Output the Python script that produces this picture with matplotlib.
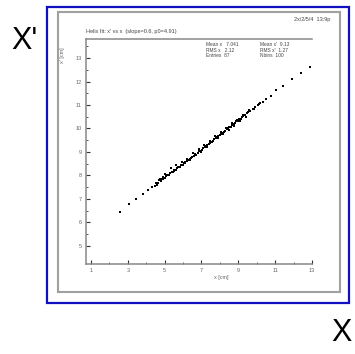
import matplotlib
matplotlib.use("Agg")
import matplotlib.pyplot as plt
from matplotlib.patches import Rectangle

plt.rcParams['font.family'] = ['Liberation Sans', 'DejaVu Sans']

# data (x, x')
x_vals = [2.60, 3.05, 3.45, 3.80, 4.10, 4.30, 4.45, 4.55, 4.62, 4.70, 4.78, 4.85, 4.93,
          5.00, 5.08, 5.15, 5.22, 5.30, 5.38, 5.45, 5.52, 5.60, 5.68, 5.75, 5.82, 5.90,
          5.98, 6.05, 6.12, 6.20, 6.28, 6.35, 6.42, 6.50, 6.58, 6.65, 6.72, 6.80, 6.88,
          6.95, 7.02, 7.10, 7.18, 7.25, 7.32, 7.40, 7.48, 7.55, 7.62, 7.70, 7.78, 7.85,
          7.92, 8.00, 8.08, 8.15, 8.22, 8.30, 8.38, 8.45, 8.52, 8.60, 8.68, 8.75, 8.82,
          8.90, 8.98, 9.05, 9.12, 9.20, 9.28, 9.35, 9.45, 9.55, 9.65, 9.78, 9.90, 10.05,
          10.20, 10.35, 10.50, 10.75, 11.05, 11.40, 11.90, 12.40, 12.90,
          4.58, 4.74, 4.90, 5.04, 5.19, 5.34, 5.49, 5.64, 5.79, 5.94, 6.09, 6.24, 6.39,
          6.54, 6.69, 6.84, 6.99, 7.14, 7.29, 7.44, 7.59, 7.74, 7.89, 8.04, 8.19, 8.34,
          8.49, 8.64, 8.79, 8.94, 9.09, 9.24, 9.40, 9.60, 9.85, 10.12]
y_vals = [6.45, 6.78, 6.98, 7.22, 7.38, 7.52, 7.55, 7.68, 7.70, 7.80, 7.76, 7.85, 7.92,
          7.90, 7.98, 8.03, 8.00, 8.10, 8.14, 8.16, 8.24, 8.22, 8.30, 8.36, 8.38, 8.46,
          8.44, 8.52, 8.58, 8.60, 8.66, 8.64, 8.75, 8.80, 8.82, 8.90, 8.88, 8.97, 9.04,
          9.02, 9.10, 9.16, 9.20, 9.24, 9.30, 9.32, 9.40, 9.44, 9.46, 9.54, 9.58, 9.62,
          9.70, 9.72, 9.78, 9.82, 9.86, 9.90, 9.98, 10.00, 10.06, 10.08, 10.16, 10.20,
          10.24, 10.30, 10.32, 10.40, 10.42, 10.50, 10.54, 10.58, 10.64, 10.70, 10.75,
          10.84, 10.90, 11.00, 11.08, 11.14, 11.24, 11.40, 11.62, 11.80, 12.10, 12.36, 12.62,
          7.58, 7.86, 7.84, 8.08, 8.04, 8.30, 8.20, 8.45, 8.34, 8.58, 8.55, 8.72, 8.70,
          8.96, 8.86, 9.12, 9.06, 9.30, 9.22, 9.45, 9.42, 9.66, 9.58, 9.86, 9.78, 10.04,
          9.94, 10.22, 10.12, 10.38, 10.30, 10.56, 10.50, 10.78, 10.82, 11.04]

x_ticks = [1, 3, 5, 7, 9, 11, 13]
y_ticks = [5, 6, 7, 8, 9, 10, 11, 12, 13]

W, H = 355, 354
fig = plt.figure(figsize=(W / 100, H / 100), dpi=100)

# outer blue frame and inner grey pad frame
fig.patches.append(Rectangle((47 / W, 1 - 303 / H), 302 / W, 296 / H, transform=fig.transFigure,
                             fill=False, edgecolor='#1010c0', linewidth=1.6))
fig.patches.append(Rectangle((58 / W, 1 - 292 / H), 282 / W, 280 / H, transform=fig.transFigure,
                             fill=False, edgecolor='#a0a0a0', linewidth=1.5))

ax = fig.add_axes([86 / W, 1 - 264 / H, 226 / W, 225 / H])
ax.scatter(x_vals, y_vals, s=0.9, c='black', marker='s', linewidths=0)
ax.set_xlim(0.73, 13.0)
ax.set_ylim(4.23, 13.81)
ax.set_xticks(x_ticks)
ax.set_yticks(y_ticks)
ax.set_xticks([2, 4, 6, 8, 10, 12], minor=True)
ax.set_yticks([5.5, 6.5, 7.5, 8.5, 9.5, 10.5, 11.5, 12.5, 13.5], minor=True)
for s in ['left', 'top', 'bottom']:
    ax.spines[s].set_color('#888888')
    ax.spines[s].set_linewidth(1.1)
ax.spines['right'].set_visible(False)
ax.tick_params(which='major', direction='in', length=3, width=0.8, color='#333333',
               labelsize=4, labelcolor='#666666', pad=3, right=False, top=False)
ax.tick_params(which='minor', direction='in', length=1.5, width=0.6, color='#333333',
               right=False, top=False)
ax.set_xlabel("x [cm]", fontsize=4, color='#666666', labelpad=1)
ax.set_ylabel("x' [cm]", fontsize=4, color='#666666', labelpad=2)
ax.yaxis.set_label_coords(-0.095, 0.93)
ax.xaxis.set_label_coords(0.6, -0.05)

ax.text(0.0, 1.02, "Helix fit: x' vs x  (slope=0.6, p0=4.91)", transform=ax.transAxes,
        fontsize=4, color='#444444', ha='left', va='bottom')
ax.text(0.53, 0.985, "Mean x   7.041\nRMS x   2.12\nEntries  87", transform=ax.transAxes,
        fontsize=3.5, color='#444444', ha='left', va='top', linespacing=1.1)
ax.text(0.77, 0.985, "Mean x'  9.13\nRMS x'  1.27\nNbins  100", transform=ax.transAxes,
        fontsize=3.5, color='#444444', ha='left', va='top', linespacing=1.1)
fig.text(330 / W, 1 - 20 / H, "2x/2/5/4  13:9p", fontsize=4, color='#444444',
         ha='right', va='center')

fig.text(24 / W, 1 - 41 / H, "X'", fontsize=22, color='black', ha='center', va='center')
fig.text(341 / W, 1 - 333 / H, "X", fontsize=22, color='black', ha='center', va='center')

fig.savefig("out.png", dpi=100)
